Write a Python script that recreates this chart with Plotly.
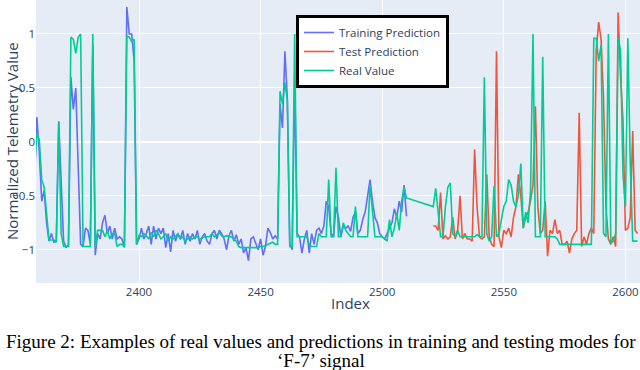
import plotly.graph_objects as go

# ---------------- data ----------------
idx_train = list(range(2357, 2511))   # training prediction indices
idx_test = list(range(2521, 2606))    # test prediction indices
idx_real = idx_train + idx_test       # real values (gap 2511-2520)

train_pred = [
    -0.4, 0.23, -0.1, -0.55, -0.45, -0.75, -0.92, -0.85, -0.93, -0.92,
    0.19, -0.45, -0.92, -0.98, -0.95, 0.6, 0.3, 0.5, -0.2, -0.95,
    -0.97, -0.8, -0.82, -0.95, 0.9, -1.05, -0.85, -0.9, -0.75, -0.68,
    -0.85, -0.78, -0.9, -0.8, -0.9, -0.88, -0.9, -0.98, 1.25, 1.0,
    1.0, 0.75, -0.95, -0.9, -0.8, -0.9, -0.85, -0.78, -0.95, -0.78,
    -0.9, -0.8, -0.85, -0.8, -0.98, -0.85, -1.02, -0.82, -0.92, -0.85,
    -0.9, -0.82, -0.95, -0.85, -0.92, -0.85, -0.9, -0.82, -0.95, -0.88,
    -0.85, -0.92, -0.95, -0.85, -0.82, -0.9, -0.82, -0.85, -0.9, -1.0,
    -0.87, -0.82, -0.92, -0.86, -0.95, -0.9, -1.03, -0.98, -1.1, -0.9,
    -0.88, -0.95, -1.0, -0.9, -1.05, -0.97, -0.8, -0.84, -0.9, -0.87,
    -0.9, 0.35, 0.13, 0.84, 0.4, -0.95, -1.0, 0.6, -0.85, -0.88,
    -1.03, -0.9, -0.82, -1.03, -0.85, -0.95, -0.82, -0.8, -0.85, -0.78,
    -0.55, -0.6, -0.85, -0.88, -0.6, -0.7, -0.88, -0.78, -0.8, -0.78,
    -0.83, -0.7, -0.65, -0.85, -0.82, -0.72, -0.65, -0.5, -0.35, -0.55,
    -0.7, -0.75, -0.85, -0.88, -0.9, -0.85, -0.8, -0.75, -0.62, -0.7,
    -0.55, -0.65, -0.4, -0.69,
]

test_pred = [
    -0.78, -0.78, -0.82, -0.47, -0.9, -0.87, -0.9, -0.88, -0.7, -0.9,
    -0.83, -0.5, -0.9, -0.85, -0.9, -0.9, -0.92, -0.07, -0.6, -0.88,
    -0.9, -0.88, -0.3, -0.88, -0.95, -0.97, 0.84, -0.88, -0.98, -0.82,
    -0.85, -0.8, -0.88, -0.7, -0.6, -0.3, -0.5, -0.8, -0.7, -0.65,
    -0.55, -0.4, 0.33, -0.6, -0.85, -0.82, -0.55, -1.06, -0.82, -0.85,
    -0.72, -0.85, -0.82, -0.95, -0.95, -0.92, -1.03, -0.9, -0.85, -0.82,
    0.27, -0.97, -0.88, -0.95, -0.85, -0.8, -0.85, 0.85, 1.11, 0.95,
    0.4, -0.6, -0.9, -0.95, -0.88, -0.97, 1.2, 0.6, 0.2, -0.82,
    -0.8, -0.7, 0.1, -0.82, -0.85,
]

real_value = [
    # 2357 - 2510
    -0.25, 0.08, 0.02, -0.35, -0.42, -0.65, -0.91, -0.91, -0.91, -0.93,
    0.18, -0.85, -0.97, -0.97, -0.97, 0.97, 0.95, 0.82, 0.97, 1.0,
    -0.97, -0.97, -0.97, -0.97, 1.0, -0.97, -0.82, -0.82, -0.82, -0.88,
    -0.82, -0.9, -0.85, -0.85, -0.97, -0.95, -0.95, -0.97, 0.98, 0.97,
    0.93, 0.95, -0.95, -0.87, -0.88, -0.85, -0.87, -0.9, -0.84, -0.88,
    -0.82, -0.85, -0.9, -0.88, -0.85, -0.92, -0.88, -0.9, -0.87, -0.85,
    -0.9, -0.88, -0.92, -0.9, -0.88, -0.9, -0.88, -0.88, -0.9, -0.89,
    -0.88, -0.88, -0.88, -0.85, -0.88, -0.86, -0.84, -0.87, -0.88, -0.87,
    -0.88, -0.88, -0.9, -0.92, -0.97, -0.98, -0.98, -0.98, -0.98, -0.98,
    -0.98, -0.98, -0.98, -0.97, -0.97, -0.96, -0.95, -0.94, -0.93, -0.95,
    -0.95, 0.47, 0.35, 0.55, 0.38, -0.97, -0.97, 1.0, -0.88, -0.88,
    -0.88, -0.88, -0.88, -0.95, -0.97, -0.97, -0.97, -0.85, -0.88, -0.88,
    -0.88, -0.35, -0.88, -0.88, -0.24, -0.88, -0.88, -0.75, -0.82, -0.85,
    -0.88, -0.88, -0.6, -0.88, -0.88, -0.88, -0.88, -0.88, -0.4, -0.65,
    -0.88, -0.88, -0.88, -0.88, -0.9, -0.92, -0.72, -0.88, -0.8, -0.66,
    -0.82, -0.55, -0.42, -0.52,
    # 2521 - 2605
    -0.6, -0.43, -0.65, -0.88, -0.88, -0.6, -0.42, -0.38, -0.85, -0.88,
    -0.82, -0.88, -0.88, -0.88, -0.88, -0.88, -0.88, -0.88, -0.86, -0.88,
    -0.88, 0.6, -0.85, -0.92, -0.88, -0.41, -0.88, -0.85, -0.72, -0.6,
    -0.55, -0.35, -0.4, -0.55, -0.6, -0.5, -0.2, -0.8, -0.65, -0.75,
    -0.45, 1.0, -0.88, -0.88, -0.88, 0.79, -0.88, -0.88, -0.88, -0.88,
    -0.88, -0.9, -0.95, -0.95, -0.95, -0.95, -0.95, -0.95, -0.95, -0.95,
    -0.95, -0.95, -0.95, -0.95, -0.95, -0.95, 0.96, 0.96, 0.75, 0.9,
    -0.85, -0.88, 1.0, -0.94, -0.92, -0.85, 0.96, 0.85, -0.3, -0.6,
    0.96, -0.2, -0.92, -0.92, -0.92,
]

x_ticks = [2400, 2450, 2500, 2550, 2600]
y_ticks = [-1, -0.5, 0, 0.5, 1]

x_title = "Index"
y_title = "Normalized Telemetry Value"
caption_1 = "Figure 2: Examples of real values and predictions in training and testing modes for"
caption_2 = "\u2018F-7\u2019 signal"

# ---------------- figure ----------------
fig = go.Figure()
fig.add_trace(go.Scatter(x=idx_train, y=train_pred, mode="lines",
                         name="Training Prediction",
                         line=dict(color="#636efa", width=1.6)))
fig.add_trace(go.Scatter(x=idx_test, y=test_pred, mode="lines",
                         name="Test Prediction",
                         line=dict(color="#EF553B", width=1.6)))
fig.add_trace(go.Scatter(x=idx_real, y=real_value, mode="lines",
                         name="Real Value",
                         line=dict(color="#00cc96", width=1.6)))

PLOT_L, PLOT_R, PLOT_T, PLOT_B = 36, 640, 0, 283   # plot area in pixels
W, H = 640, 370


def px_to_paper(xp, yp):
    return ((xp - PLOT_L) / (PLOT_R - PLOT_L),
            (PLOT_B - yp) / (PLOT_B - PLOT_T))


fig.update_layout(
    template="plotly",
    width=W, height=H,
    margin=dict(l=PLOT_L, r=W - PLOT_R, t=PLOT_T, b=H - PLOT_B, pad=0,
                autoexpand=False),
    paper_bgcolor="white",
    font=dict(family="Open Sans, sans-serif", size=11.5),
    showlegend=True,
    legend=dict(x=px_to_paper(296, 0)[0], y=px_to_paper(0, 15)[1],
                xanchor="left", yanchor="top",
                bgcolor="white", bordercolor="black", borderwidth=3,
                font=dict(size=11.5, color="#2a3f5f")),
)
fig.update_xaxes(range=[2357.65, 2606.0], tickvals=x_ticks, automargin=False,
                 tickfont=dict(size=11.5), showgrid=True, zeroline=False)
fig.update_yaxes(range=[-1.308, 1.315], tickvals=y_ticks, automargin=False,
                 tickfont=dict(size=11.5), showgrid=True)

ax, ay = px_to_paper(12, 141)
fig.add_annotation(text=y_title, xref="paper", yref="paper",
                   x=ax, y=ay, xanchor="center", yanchor="middle",
                   textangle=-90, showarrow=False,
                   font=dict(size=15, color="#2a3f5f"))
ix, iy = px_to_paper(350, 303)
fig.add_annotation(text=x_title, xref="paper", yref="paper",
                   x=ix, y=iy, xanchor="center", yanchor="middle",
                   showarrow=False, font=dict(size=15, color="#2a3f5f"))
c1x, c1y = px_to_paper(321, 341)
fig.add_annotation(text=caption_1, xref="paper", yref="paper",
                   x=c1x, y=c1y, xanchor="center", yanchor="middle",
                   showarrow=False,
                   font=dict(family="Liberation Serif, Times New Roman, serif",
                             size=19, color="black"))
c2x, c2y = px_to_paper(321, 360)
fig.add_annotation(text=caption_2, xref="paper", yref="paper",
                   x=c2x, y=c2y, xanchor="center", yanchor="middle",
                   showarrow=False,
                   font=dict(family="Liberation Serif, Times New Roman, serif",
                             size=19, color="black"))

fig.write_html("out.html", config={"displayModeBar": False},
               post_script="document.body.style.margin='0';"
                           "document.body.style.overflow='hidden';")
